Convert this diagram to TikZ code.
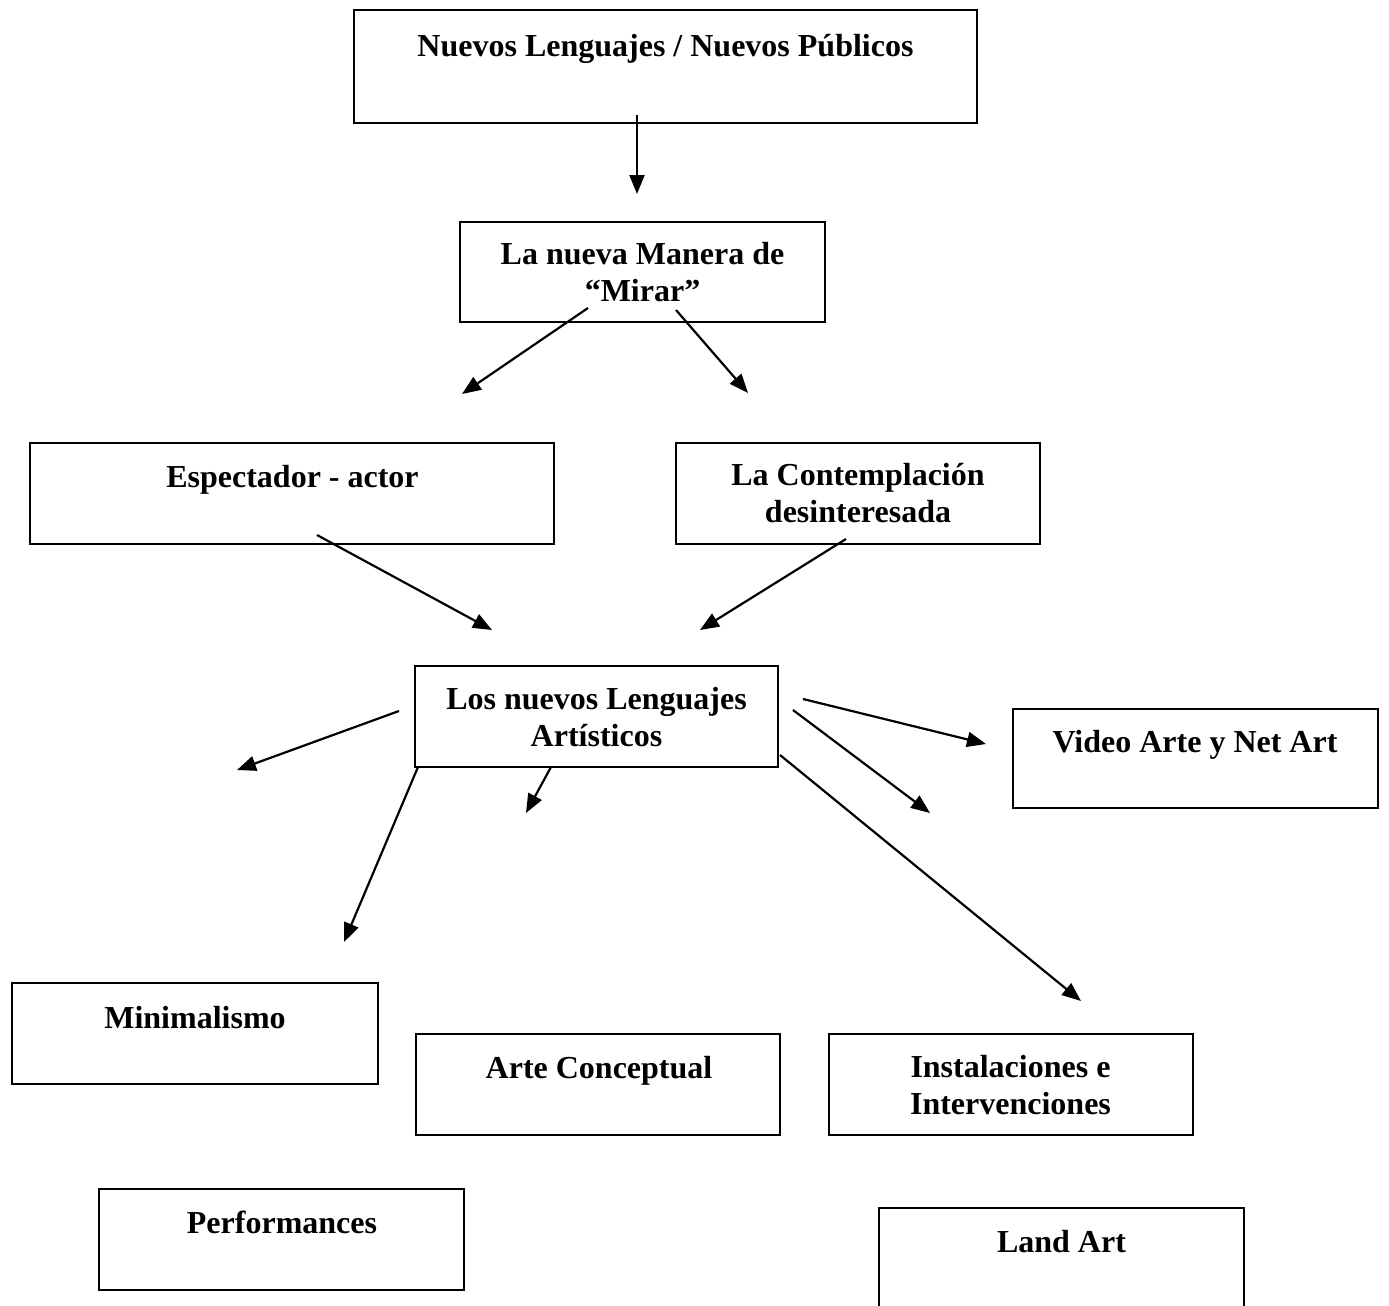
\documentclass[tikz,border=0pt]{standalone}
\usepackage{fontspec}
\setmainfont{Liberation Serif}
\usetikzlibrary{arrows.meta}
\begin{document}
\begin{tikzpicture}[x=0.5pt,y=-0.5pt,
  box/.style={draw=black, line width=1.3pt, rectangle, inner sep=0pt},
  lbl/.style={anchor=base, align=center, inner sep=0pt, font=\fontsize{16}{18.5}\selectfont\bfseries},
  conn/.style={line width=1.1pt, -{Triangle[length=9.5pt,width=7.5pt]}}]
\path[use as bounding box, fill=white] (0,0) rectangle (1389,1306);
\clip (0,0) rectangle (1389,1306);
% boxes
\node[box, minimum width=311.5pt, minimum height=56.5pt] (b1) at (665.5,66.5) {};
\node[box, minimum width=182.5pt, minimum height=50pt] (b2) at (642.5,272) {};
\node[box, minimum width=262pt, minimum height=50.5pt] (b3) at (292,493.5) {};
\node[box, minimum width=182pt, minimum height=50.5pt] (b4) at (858,493.5) {};
\node[box, minimum width=181.5pt, minimum height=50.5pt] (b5) at (596.5,716.5) {};
\node[box, minimum width=182.5pt, minimum height=49.5pt] (b6) at (1195.5,758.5) {};
\node[box, minimum width=183pt, minimum height=50.5pt] (b7) at (195,1033.5) {};
\node[box, minimum width=182pt, minimum height=50.5pt] (b8) at (598,1084.5) {};
\node[box, minimum width=182pt, minimum height=50.5pt] (b9) at (1011,1084.5) {};
\node[box, minimum width=182.5pt, minimum height=50.5pt] (b10) at (281.5,1239.5) {};
\node[box, minimum width=182.5pt, minimum height=51.5pt] (b11) at (1061.5,1259.5) {};
% labels (base anchor = baseline of the last line)
\node[lbl] (t1) at (665.5,56) {Nuevos Lenguajes / Nuevos Públicos};
\node[lbl] (t2) at (642.5,301) {La nueva Manera de\\“Mirar”};
\node[lbl] (t3) at (292.5,487) {Espectador - actor};
\node[lbl] (t4) at (858,522) {La Contemplación\\desinteresada};
\node[lbl] (t5) at (596.5,746) {Los nuevos Lenguajes\\Artísticos};
\node[lbl] (t6) at (1195,752) {Video Arte y Net Art};
\node[lbl] (t7) at (195,1028) {Minimalismo};
\node[lbl] (t8) at (599,1078) {Arte Conceptual};
\node[lbl] (t9) at (1010.5,1114) {Instalaciones e\\Intervenciones};
\node[lbl] (t10) at (282,1233) {Performances};
\node[lbl] (t11) at (1061.5,1252) {Land Art};
% connector end points
\coordinate (s1) at (637,115);  \coordinate (e1) at (637,194);
\coordinate (s2) at (588,308);  \coordinate (e2) at (462,394);
\coordinate (s3) at (676,310);  \coordinate (e3) at (748,393);
\coordinate (s4) at (317,535);  \coordinate (e4) at (492,630);
\coordinate (s5) at (846,539);  \coordinate (e5) at (700,630);
\coordinate (s6) at (399,711);  \coordinate (e6) at (237,770);
\coordinate (s7) at (551,767);  \coordinate (e7) at (526,813);
\coordinate (s8) at (418,767);  \coordinate (e8) at (344,942);
\coordinate (s9) at (803,699);  \coordinate (e9) at (986,744);
\coordinate (s10) at (793,710); \coordinate (e10) at (930,813);
\coordinate (s11) at (780,755); \coordinate (e11) at (1081,1001);
% connectors
\foreach \i in {1,...,11} {\draw[conn] (s\i) -- (e\i);}
\end{tikzpicture}
\end{document}
